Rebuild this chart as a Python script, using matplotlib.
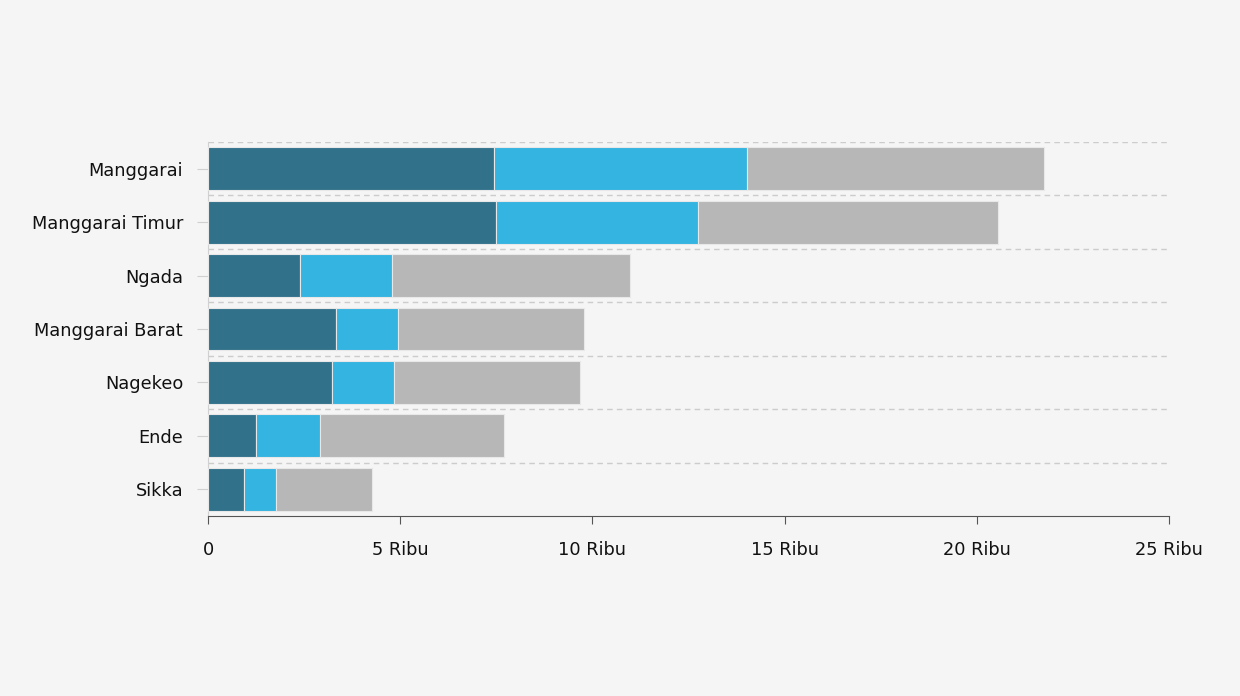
import matplotlib
matplotlib.use("Agg")
import matplotlib.pyplot as plt
import numpy as np

plt.rcParams["font.family"] = ["DejaVu Sans"]

categories = ["Manggarai", "Manggarai Timur", "Ngada", "Manggarai Barat", "Nagekeo", "Ende", "Sikka"]
seg1 = [7.44, 7.49, 2.39, 3.33, 3.23, 1.25, 0.94]
seg2 = [6.58, 5.26, 2.40, 1.61, 1.61, 1.66, 0.83]
seg3 = [7.73, 7.80, 6.19, 4.84, 4.84, 4.79, 2.50]
xticks = [0, 5, 10, 15, 20, 25]
xticklabels = ["0", "5 Ribu", "10 Ribu", "15 Ribu", "20 Ribu", "25 Ribu"]

colors = ["#31728A", "#33B4E1", "#B7B7B8"]
bg = "#F5F5F5"

fig = plt.figure(figsize=(12.4, 6.96), dpi=100, facecolor=bg)
ax = fig.add_axes([208/1240, 1-516/696, (1169-208)/1240, (516-142)/696])
ax.set_facecolor(bg)

y = np.arange(len(categories))
left = np.zeros(len(categories))
for vals, c in zip([seg1, seg2, seg3], colors):
    ax.barh(y, vals, left=left, height=0.8, color=c, edgecolor="#E8E8E8", linewidth=0.8, zorder=3)
    left = left + np.array(vals)

ax.set_xlim(0, 25)
ax.set_ylim(len(categories) - 0.5, -0.5)
ax.set_yticks(y)
ax.set_yticklabels(categories, fontsize=12.8, color="#111111")
ax.set_xticks(xticks)
ax.set_xticklabels(xticklabels, fontsize=12.8, color="#111111")

for b in np.arange(-0.5, len(categories) - 0.5, 1.0):
    ax.axhline(b, color="#CCCCCC", linestyle=(0, (4, 3)), linewidth=1, zorder=1)

for s in ["top", "right"]:
    ax.spines[s].set_visible(False)
ax.spines["left"].set_color("#D0D0D0")
ax.spines["bottom"].set_color("#555555")
ax.tick_params(axis="y", length=8, color="#D0D0D0", pad=10)
ax.tick_params(axis="x", length=6, color="#555555", pad=12)

fig.savefig("out.png", dpi=100, facecolor=bg)
